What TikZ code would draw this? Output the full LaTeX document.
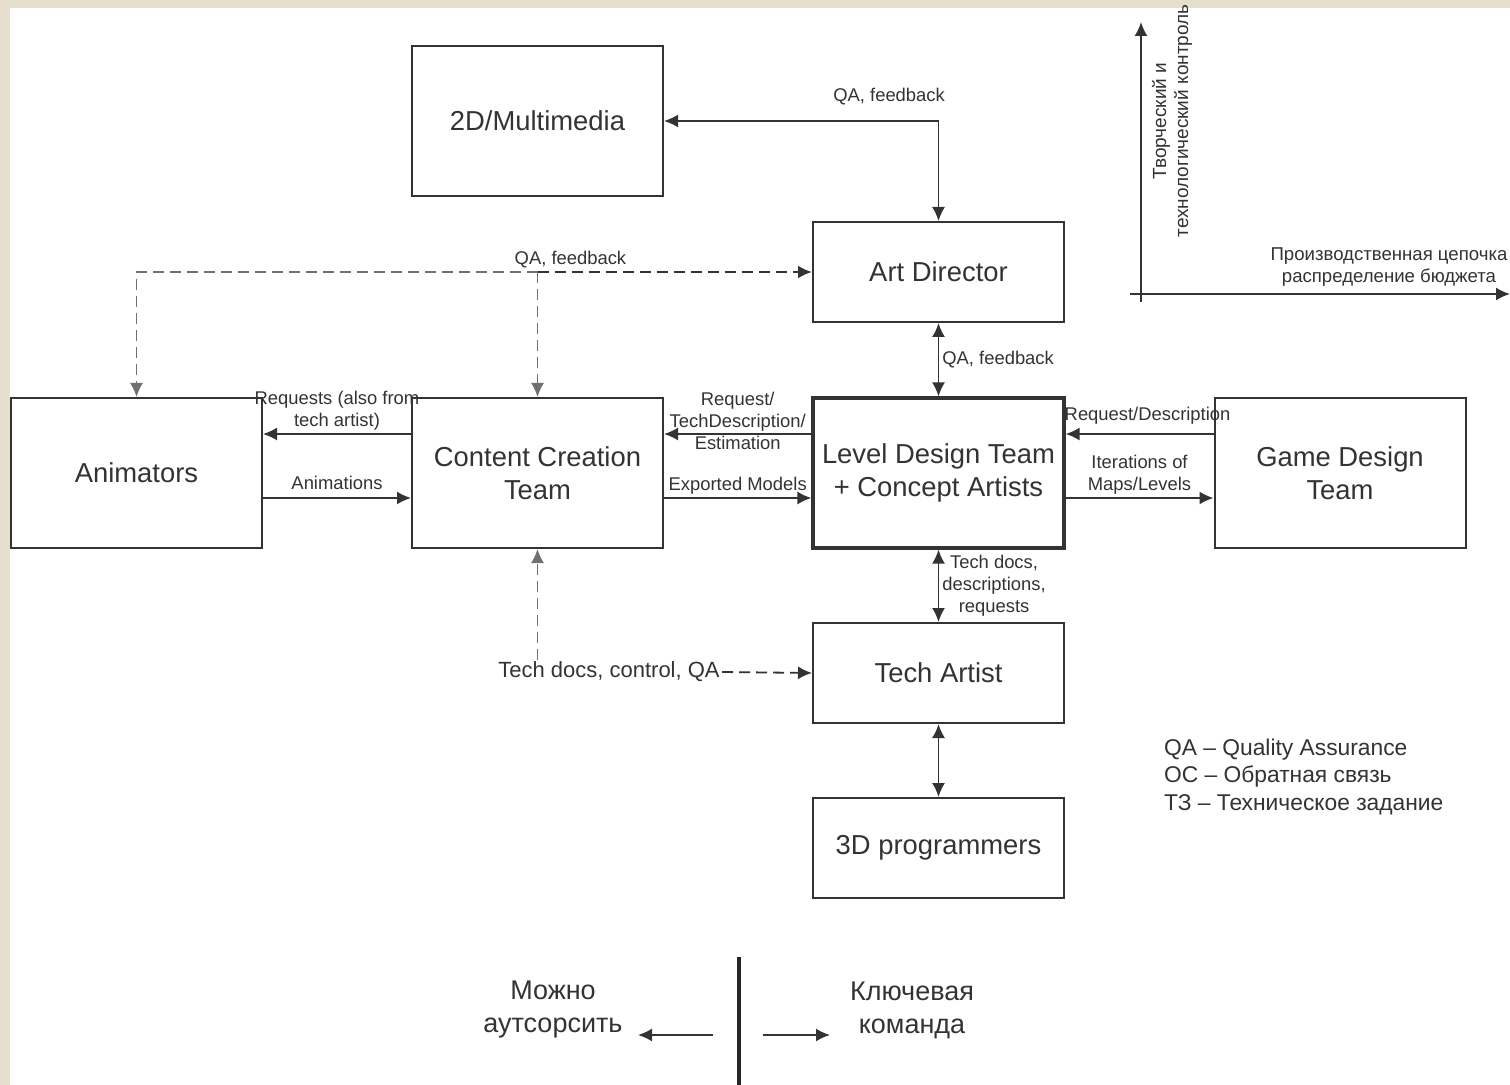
\documentclass[tikz,border=0pt]{standalone}
\usepackage{fontspec}
\setmainfont{Liberation Sans}
\usetikzlibrary{arrows.meta,positioning,calc}
\definecolor{paper}{HTML}{E6DFCE}
\definecolor{ink}{HTML}{333333}

\begin{document}
\begin{tikzpicture}[x=0.5pt,y=-0.5pt,>={Latex[length=7pt,width=6.5pt]},
 box/.style={draw=ink,minimum width=125.5pt,align=center,text=ink,font=\fontsize{13.7}{16.5}\selectfont},
 lbl/.style={text=ink,align=center,inner sep=1.5pt,font=\fontsize{9.2}{11}\selectfont},
 conn/.style={draw=ink,line width=0.9pt},
 dashln/.style={dash pattern=on 5.5pt off 3pt}]
\useasboundingbox (0,0) rectangle (1510,1085);
\fill[paper] (0,0) rectangle (1510,1085);
\fill[white] (10,8) rectangle (1512,1087);

\node[box,line width=1pt,minimum height=75pt] (md) at (537.5,121) {2D/Multimedia};
\node[box,line width=1pt,minimum height=50pt] (ad) at (938.5,272) {Art Director};
\foreach \n/\x/\w/\t in {anim/136.5/1pt/Animators,cct/537.5/1pt/{Content Creation\\Team},ld/938.5/1.6pt/{Level Design Team\\+ Concept Artists},gd/1340/1pt/{Game Design\\Team}}{
 \node[box,line width=\w,minimum height=75pt] (\n) at (\x,473) {\t};
}
\node[box,line width=1pt,minimum height=50pt] (ta) at (938.5,673) {Tech Artist};
\node[box,line width=1pt,minimum height=50pt] (prog) at (938.5,848) {3D programmers};

\draw[conn,<->] (md.east) -| node[lbl,above=6pt,pos=0.41] {QA, feedback} (ad.north);

\coordinate (qa) at (537.5,272);
\draw[conn,dashln,line width=1.2pt,->] (qa) -- node[lbl,above,pos=0.12] {QA, feedback} (ad.west);
\draw[conn,dashln,draw=ink!70,->] (qa) -| (anim.north);
\draw[conn,dashln,draw=ink!70,->] (qa) -- (cct.north);

\draw[conn,->] ([yshift=19.5pt]cct.west) -- node[lbl,above] {Requests (also from\\tech artist)} ([yshift=19.5pt]anim.east);
\draw[conn,->] ([yshift=-12.5pt]anim.east) -- node[lbl,above=2pt] {Animations} ([yshift=-12.5pt]cct.west);
\draw[conn,->] ([yshift=19.5pt]ld.west) -- node[lbl,yshift=6.5pt] {Request/\\TechDescription/\\Estimation} ([yshift=19.5pt]cct.east);
\draw[conn,->] ([yshift=-12.5pt]cct.east) -- node[lbl,above] {Exported Models} ([yshift=-12.5pt]ld.west);
\draw[conn,->] ([yshift=19.5pt]gd.west) -- node[lbl,above=3pt,xshift=4pt] {Request/Description} ([yshift=19.5pt]ld.east);
\draw[conn,->] ([yshift=-12.5pt]ld.east) -- node[lbl,above] {Iterations of\\Maps/Levels} ([yshift=-12.5pt]gd.west);

\draw[conn,<->] (ad.south) -- node[lbl,right] {QA, feedback} (ld.north);
\draw[conn,<->] (ld.south) -- node[lbl,right] {Tech docs,\\descriptions,\\requests} (ta.north);
\draw[conn,<->] (ta.south) -- (prog.north);

\node[text=ink,inner sep=1pt,font=\fontsize{11}{13.5}\selectfont] (tdc) at (609,672) {Tech docs, control, QA};
\draw[conn,dashln,->] (tdc.east) -- (ta.west);
\draw[conn,dashln,draw=ink!70,->] (tdc.north -| cct.south) -- (cct.south);

\node[anchor=west,align=left,text=ink,font=\fontsize{11.4}{13.75}\selectfont] (lgd) at (1157,777) {QA – Quality Assurance\\ОС – Обратная связь\\ТЗ – Техническое задание};

\coordinate (o) at (1141,294);
\draw[conn,->] ([yshift=-4pt]o) -- (1141,22);
\draw[conn,->] ([xshift=-5.5pt]o) -- (1510,294);
\node[lbl,rotate=90,font=\fontsize{9.5}{11}\selectfont] (ctl) at (1172,121) {Творческий и\\технологический контроль};
\node[lbl,font=\fontsize{9.3}{11}\selectfont] (bud) at (1389,267) {Производственная цепочка\\распределение бюджета};

\coordinate (sp) at (739,1035);
\draw[line width=2pt,draw=black!85] (739,957) -- (739,1085);
\node[text=ink,align=center,font=\fontsize{13.5}{16.5}\selectfont] (outs) at (553,1010) {Можно\\аутсорсить};
\node[text=ink,align=center,font=\fontsize{13.5}{16.5}\selectfont] (core) at (912,1010) {Ключевая\\команда};
\draw[conn,->] ([xshift=-13pt]sp) -- ([xshift=-50.5pt]sp);
\draw[conn,->] ([xshift=12pt]sp) -- ([xshift=45.5pt]sp);
\end{tikzpicture}
\end{document}
